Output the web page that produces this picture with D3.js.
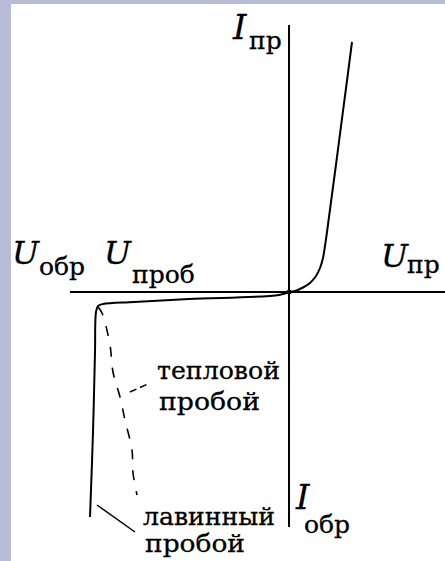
<!DOCTYPE html>
<html>
<head>
<meta charset="utf-8">
<script src="https://cdn.jsdelivr.net/npm/d3@7"></script>
<style>
  html, body { margin: 0; padding: 0; background: #fff; }
  svg { display: block; }
  text { font-family: "DejaVu Serif", "Liberation Serif", serif; fill: #000; stroke: #000; stroke-width: 0.3; }
</style>
</head>
<body>
<script>
// Diode current–voltage characteristic (arbitrary units)
// Forward branch: U_пр vs I_пр
const forwardU = [0, 0.06, 0.14, 0.21, 0.27, 0.31, 0.34, 0.36, 0.38, 0.42, 0.48, 0.54, 0.59, 0.63];
const forwardI = [0, 0.01, 0.045, 0.09, 0.16, 0.24, 0.34, 0.46, 0.60, 0.90, 1.35, 1.81, 2.19, 2.50];

// Reverse branch with avalanche breakdown (solid)
const avalancheU = [0, -0.10, -1.00, -1.55, -1.86, -1.91, -1.93, -1.94, -1.96, -1.99];
const avalancheI = [0, -0.03, -0.07, -0.10, -0.12, -0.14, -0.20, -0.60, -1.40, -2.25];

// Thermal breakdown branch (dashed)
const thermalU = [-1.91, -1.87, -1.79, -1.76, -1.69, -1.64, -1.57, -1.56, -1.52];
const thermalI = [-0.15, -0.21, -0.53, -0.80, -1.05, -1.28, -1.58, -1.81, -2.03];

// Callout leaders: [start, end] in data units
const thermalLeaderU = [-1.59, -1.41];
const thermalLeaderI = [-1.00, -0.92];
const avalancheLeaderU = [-1.92, -1.54];
const avalancheLeaderI = [-2.13, -2.40];

// Axis extents
const uDomain = [-2.19, 1.56];
const iDomain = [-2.35, 2.67];

// Text
const axisSymbols = ["I", "U", "U", "U", "I"];
const axisSubscripts = ["пр", "обр", "проб", "пр", "обр"];
const thermalLabel = ["тепловой", "пробой"];
const avalancheLabel = ["лавинный", "пробой"];

const W = 445, H = 561;
const svg = d3.select("body").append("svg")
  .attr("width", W).attr("height", H);

svg.append("rect").attr("width", W).attr("height", H).attr("fill", "#fff");
// lavender frame strips
svg.append("rect").attr("x", 0).attr("y", 0).attr("width", 11).attr("height", H).attr("fill", "#b8bcd9");
svg.append("rect").attr("x", 0).attr("y", 0).attr("width", W).attr("height", 4).attr("fill", "#b8bcd9");

const x = d3.scaleLinear().domain(uDomain).range([70, 445]);
const y = d3.scaleLinear().domain(iDomain).range([527, 25]);

// Axes
svg.append("line")
  .attr("x1", x(uDomain[0])).attr("x2", x(uDomain[1]))
  .attr("y1", y(0)).attr("y2", y(0))
  .attr("stroke", "#000").attr("stroke-width", 2);
svg.append("line")
  .attr("x1", x(0)).attr("x2", x(0))
  .attr("y1", y(iDomain[0])).attr("y2", y(iDomain[1]))
  .attr("stroke", "#000").attr("stroke-width", 2);

const line = d3.line()
  .x(d => x(d[0])).y(d => y(d[1]))
  .curve(d3.curveCatmullRom.alpha(0.5));

const zip = (a, b) => a.map((v, i) => [v, b[i]]);

svg.append("path")
  .attr("d", line(zip(forwardU, forwardI)))
  .attr("fill", "none").attr("stroke", "#000").attr("stroke-width", 2);

svg.append("path")
  .attr("d", line(zip(avalancheU, avalancheI)))
  .attr("fill", "none").attr("stroke", "#000").attr("stroke-width", 2);

svg.append("path")
  .attr("d", line(zip(thermalU, thermalI)))
  .attr("fill", "none").attr("stroke", "#000").attr("stroke-width", 1.6)
  .attr("stroke-dasharray", "10,11");

// origin dot
svg.append("circle").attr("cx", x(0)).attr("cy", y(0)).attr("r", 2.5).attr("fill", "#000");

// leaders
svg.append("line")
  .attr("x1", x(thermalLeaderU[0])).attr("y1", y(thermalLeaderI[0]))
  .attr("x2", x(thermalLeaderU[1])).attr("y2", y(thermalLeaderI[1]))
  .attr("stroke", "#000").attr("stroke-width", 1.5).attr("stroke-dasharray", "7,4");
svg.append("line")
  .attr("x1", x(avalancheLeaderU[0])).attr("y1", y(avalancheLeaderI[0]))
  .attr("x2", x(avalancheLeaderU[1])).attr("y2", y(avalancheLeaderI[1]))
  .attr("stroke", "#000").attr("stroke-width", 1.5);

// Axis labels: italic symbol + subscript
const labelPos = [
  { sx: 233, sy: 39, bx: 249, by: 49, size: 34 },   // I пр
  { sx: 12,  sy: 264, bx: 39, by: 275, size: 32 },  // U обр
  { sx: 104, sy: 264, bx: 132, by: 283, size: 32 }, // U проб
  { sx: 381, sy: 267, bx: 407, by: 273, size: 32 }, // U пр
  { sx: 296, sy: 509, bx: 304, by: 533, size: 34 }  // I обр
];
axisSymbols.forEach((s, i) => {
  const p = labelPos[i];
  svg.append("text").attr("x", p.sx).attr("y", p.sy)
    .attr("font-size", p.size).attr("font-style", "italic").text(s);
  svg.append("text").attr("x", p.bx).attr("y", p.by)
    .attr("font-size", 25).text(axisSubscripts[i]);
});

// Breakdown labels
const lbl = (t, xx, yy, len) => svg.append("text")
  .attr("x", xx).attr("y", yy).attr("font-size", 25)
  .attr("textLength", len).attr("lengthAdjust", "spacingAndGlyphs").text(t);
lbl(thermalLabel[0], 157, 379, 123);
lbl(thermalLabel[1], 159, 410, 101);
lbl(avalancheLabel[0], 143, 525, 132);
lbl(avalancheLabel[1], 145, 552, 100);
</script>
</body>
</html>
